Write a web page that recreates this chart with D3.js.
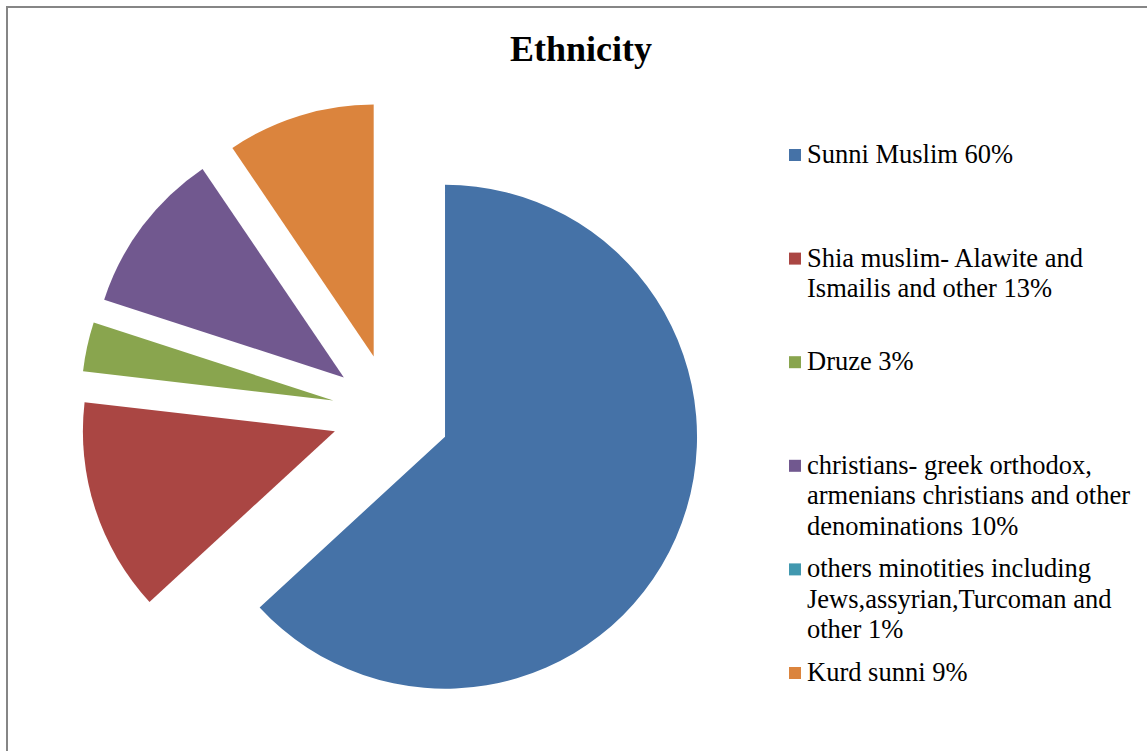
<!DOCTYPE html>
<html>
<head>
<meta charset="utf-8">
<script src="https://cdn.jsdelivr.net/npm/d3@7"></script>
<style>
  html, body { margin: 0; padding: 0; background: #ffffff; }
  svg { display: block; }
  .serif { font-family: "Liberation Serif", "Times New Roman", Times, serif; }
</style>
</head>
<body>
<svg id="chart" width="1147" height="751"></svg>
<script>
// Religious / ethnic composition
const categories = [
  "Sunni Muslim 60%",
  "Shia muslim- Alawite and Ismailis and other 13%",
  "Druze 3%",
  "christians- greek orthodox, armenians christians and other denominations 10%",
  "others minotities including Jews,assyrian,Turcoman and other 1%",
  "Kurd sunni 9%"
];
// legend text broken into its display lines
const legendLines = [
  ["Sunni Muslim 60%"],
  ["Shia muslim- Alawite and", "Ismailis and other 13%"],
  ["Druze 3%"],
  ["christians- greek orthodox,", "armenians christians and other", "denominations 10%"],
  ["others minotities including", "Jews,assyrian,Turcoman and", "other 1%"],
  ["Kurd sunni 9%"]
];
// slice values (the minorities entry carries no slice in the sheet)
const values = [60, 13, 3, 10, 0, 9];
const colors = ["#4572A7", "#AA4643", "#89A54E", "#71588F", "#4198AF", "#DB843D"];
const title = "Ethnicity";

const svg = d3.select("#chart");

// chart frame
svg.append("rect")
  .attr("x", 7).attr("y", 7)
  .attr("width", 1160).attr("height", 770)
  .attr("fill", "#ffffff")
  .attr("stroke", "#868686")
  .attr("stroke-width", 2);

svg.append("text")
  .attr("class", "serif")
  .attr("x", 581).attr("y", 61)
  .attr("text-anchor", "middle")
  .attr("font-weight", "bold")
  .attr("font-size", 36)
  .attr("fill", "#000")
  .text(title);

// exploded pie
const cx = 391, cy = 413, radius = 252, explode = 59;
const pie = d3.pie().sort(null).value(d => d)(values);
const arc = d3.arc().innerRadius(0).outerRadius(radius);

const slices = svg.append("g").attr("transform", `translate(${cx},${cy})`);
slices.selectAll("path")
  .data(pie)
  .join("path")
  .attr("d", arc)
  .attr("fill", (d, i) => colors[i])
  .attr("transform", d => {
    const mid = (d.startAngle + d.endAngle) / 2;
    return `translate(${explode * Math.sin(mid)},${-explode * Math.cos(mid)})`;
  });

// legend
const legendX = 789, textX = 807, firstBaseline = 163, slot = 103.6, lineH = 30.5;
const legend = svg.append("g");
const items = legend.selectAll("g")
  .data(categories)
  .join("g")
  .attr("transform", (d, i) => `translate(0,${firstBaseline + i * slot})`);

items.append("rect")
  .attr("x", legendX).attr("y", -14)
  .attr("width", 12).attr("height", 12)
  .attr("fill", (d, i) => colors[i]);

items.append("text")
  .attr("class", "serif")
  .attr("font-size", 26.5)
  .attr("fill", "#000")
  .each(function(d, i) {
    d3.select(this).selectAll("tspan")
      .data(legendLines[i])
      .join("tspan")
      .attr("x", textX)
      .attr("y", (t, j) => j * lineH)
      .text(t => t);
  });
</script>
</body>
</html>
